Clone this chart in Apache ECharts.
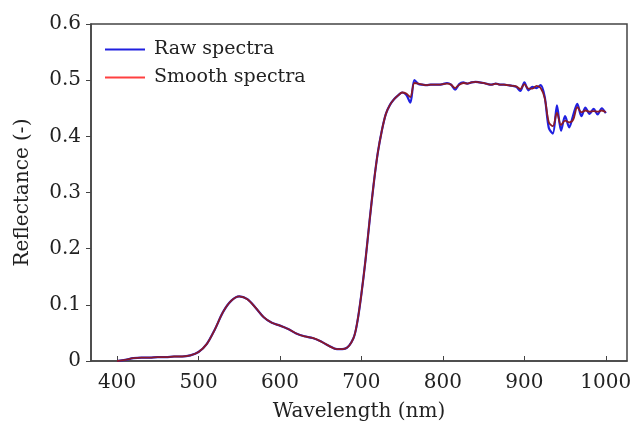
<!DOCTYPE html>
<html>
<head>
<meta charset="utf-8">
<script src="https://cdn.jsdelivr.net/npm/echarts@6/dist/echarts.min.js"></script>
<style>html,body{margin:0;padding:0;background:#fff;}#c{width:638px;height:423px;}</style>
</head>
<body>
<div id="c"></div>
<script>
var wavelengths = [400,410,420,430,440,450,460,470,480,490,500,510,520,530,540,550,560,570,580,590,600,610,620,630,640,650,660,670,680,690,695,700,705,710,715,720,725,730,735,740,745,750,755,760,765,770,775,780,785,790,795,800,805,810,815,820,825,830,835,840,845,850,855,860,865,870,875,880,885,890,895,900,905,910,915,920,925,930,935,940,945,950,955,960,965,970,975,980,985,990,995,1000];
var smoothSpectra = [0.000,0.002,0.005,0.006,0.006,0.007,0.007,0.008,0.008,0.010,0.016,0.030,0.056,0.087,0.107,0.115,0.110,0.095,0.078,0.068,0.063,0.057,0.049,0.044,0.041,0.035,0.027,0.021,0.022,0.040,0.070,0.120,0.180,0.250,0.315,0.370,0.410,0.440,0.456,0.466,0.473,0.478,0.476,0.470,0.495,0.494,0.492,0.491,0.492,0.492,0.492,0.493,0.494,0.492,0.486,0.492,0.495,0.494,0.496,0.497,0.496,0.495,0.493,0.492,0.494,0.492,0.492,0.491,0.490,0.489,0.484,0.493,0.485,0.485,0.490,0.486,0.468,0.425,0.418,0.442,0.420,0.428,0.425,0.430,0.452,0.443,0.446,0.444,0.445,0.444,0.446,0.443];
var rawSpectra = [0.000,0.002,0.005,0.006,0.006,0.007,0.007,0.008,0.008,0.010,0.016,0.030,0.056,0.087,0.107,0.115,0.110,0.095,0.078,0.068,0.063,0.057,0.049,0.044,0.041,0.035,0.027,0.021,0.022,0.040,0.070,0.120,0.180,0.250,0.315,0.370,0.410,0.440,0.456,0.466,0.473,0.478,0.474,0.460,0.500,0.493,0.492,0.491,0.492,0.492,0.492,0.493,0.495,0.492,0.483,0.493,0.496,0.494,0.496,0.497,0.496,0.495,0.493,0.492,0.494,0.492,0.492,0.491,0.490,0.488,0.481,0.496,0.482,0.488,0.486,0.491,0.470,0.415,0.405,0.455,0.410,0.436,0.416,0.438,0.458,0.436,0.451,0.440,0.449,0.439,0.450,0.441];
var xTicks = [400,500,600,700,800,900,1000];
var yTicks = [0,0.1,0.2,0.3,0.4,0.5,0.6];

function pairs(vals){ return wavelengths.map(function(w,i){ return [w, vals[i]]; }); }

var font = '"DejaVu Serif", serif';
var chart = echarts.init(document.getElementById('c'));
chart.setOption({
  animation: false,
  backgroundColor: '#fff',
  grid: {left: 91, top: 24, right: 11, bottom: 62, show: true, borderColor: '#444', borderWidth: 1.5,
         containLabel: false, outerBoundsMode: 'none'},
  legend: {
    left: 100, top: 35, orient: 'vertical', itemGap: 9, itemWidth: 40, itemHeight: 2,
    textStyle: {fontFamily: font, fontSize: 19, color: '#222', padding: [0, 0, 0, 4]},
    data: [
      {name: 'Raw spectra', icon: 'rect', itemStyle: {color: '#2020e0'}},
      {name: 'Smooth spectra', icon: 'rect', itemStyle: {color: '#ff4040'}}
    ]
  },
  xAxis: {
    type: 'value', min: 368, max: 1026,
    name: 'Wavelength (nm)', nameLocation: 'middle', nameGap: 41,
    nameTextStyle: {fontFamily: font, fontSize: 20, color: '#222'},
    axisLine: {show: true, lineStyle: {color: '#444', width: 1.5}},
    axisTick: {show: true, inside: true, length: 5, customValues: xTicks, lineStyle: {color: '#444'}},
    axisLabel: {customValues: xTicks, fontFamily: font, fontSize: 20, color: '#222', margin: 12,
      formatter: function(v){ return String(v); }},
    splitLine: {show: false}
  },
  yAxis: {
    type: 'value', min: 0, max: 0.6, interval: 0.1,
    name: 'Reflectance (-)', nameLocation: 'middle', nameGap: 58,
    nameTextStyle: {fontFamily: font, fontSize: 20, color: '#222'},
    axisLine: {show: true, lineStyle: {color: '#444', width: 1.5}},
    axisTick: {show: true, inside: false, length: 5, lineStyle: {color: '#444'}},
    axisLabel: {fontFamily: font, fontSize: 20, color: '#222', margin: 10,
      formatter: function(v){ return v === 0 ? '0' : v.toFixed(1); }},
    splitLine: {show: false}
  },
  series: [
    {name: 'Raw spectra', type: 'line', data: pairs(rawSpectra), showSymbol: false, smooth: 0.3,
     itemStyle: {color: '#2020e0'}, lineStyle: {color: '#2020e0', width: 2.2}},
    {name: 'Smooth spectra', type: 'line', data: pairs(smoothSpectra), showSymbol: false, smooth: 0.3,
     itemStyle: {color: '#ff4040'}, lineStyle: {color: '#8a1a28', width: 1.8}}
  ]
});
</script>
</body>
</html>
